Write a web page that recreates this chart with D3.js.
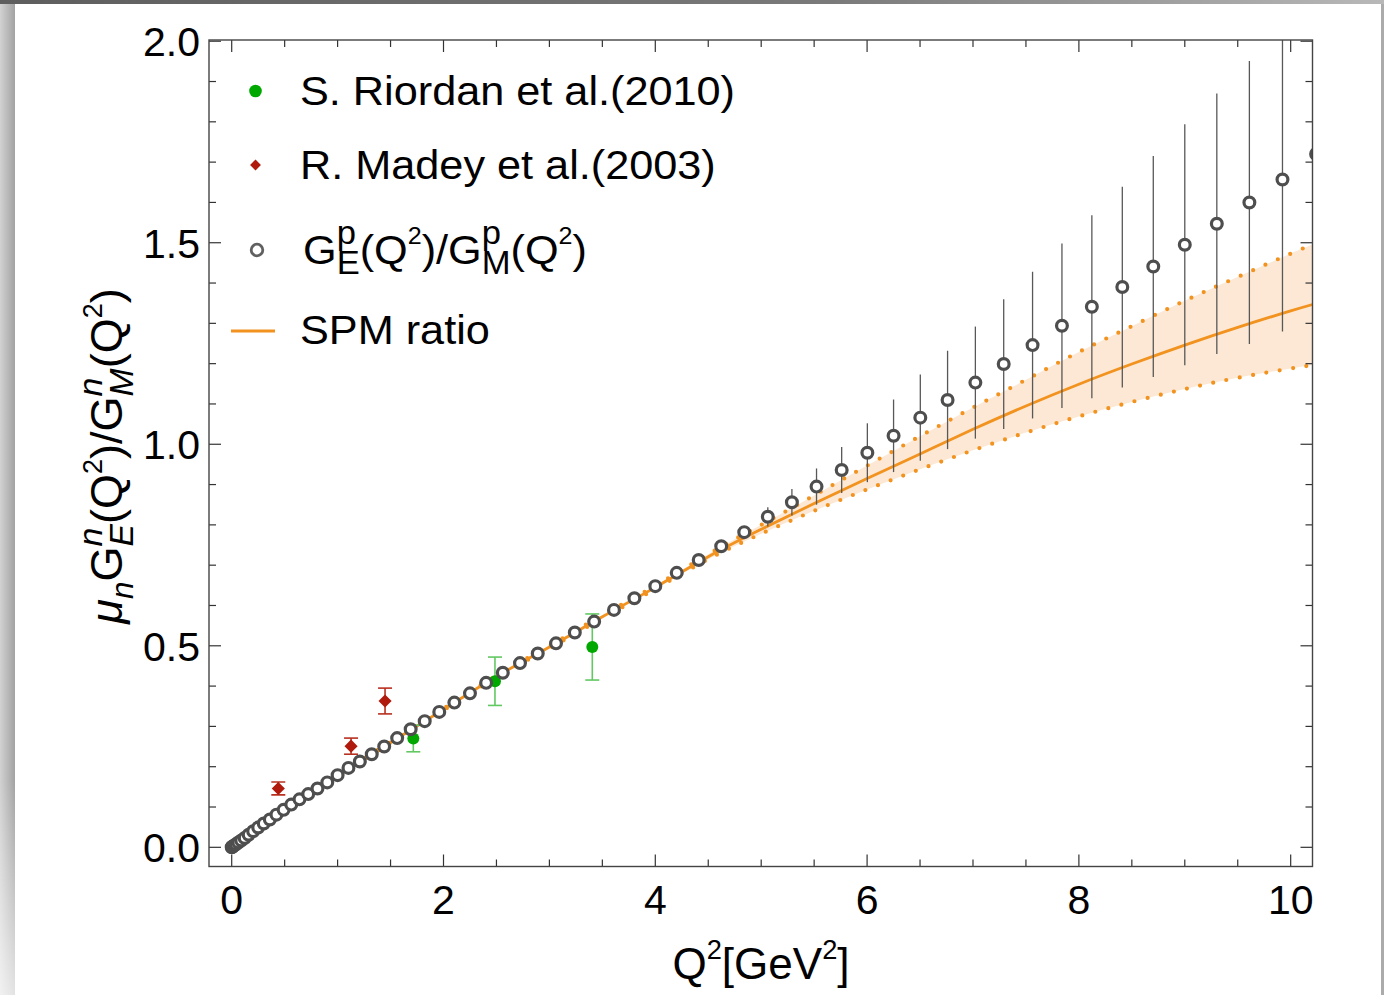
<!DOCTYPE html>
<html><head><meta charset="utf-8">
<script src="https://cdn.jsdelivr.net/npm/d3@7"></script>
<style>body{margin:0;background:#fff;}svg{display:block;}</style>
</head><body>
<script>
// ---------------- data ----------------
const qSq = [0, 0.0025, 0.01, 0.0225, 0.04, 0.0625, 0.09, 0.1225, 0.16, 0.2025, 0.25, 0.3025, 0.36, 0.4225, 0.49, 0.5625, 0.64, 0.7225, 0.81, 0.9025, 1, 1.1025, 1.21, 1.3225, 1.44, 1.5625, 1.69, 1.8225, 1.96, 2.1025, 2.25, 2.4025, 2.56, 2.7225, 2.89, 3.0625, 3.24, 3.4225, 3.61, 3.8025, 4, 4.2025, 4.41, 4.6225, 4.84, 5.0625, 5.29, 5.5225, 5.76, 6.0025, 6.25, 6.5025, 6.76, 7.0225, 7.29, 7.5625, 7.84, 8.1225, 8.41, 8.7025, 9, 9.3025, 9.61, 9.9225, 10.24];
const ratio = [0, 0.0005, 0.0019, 0.0043, 0.0076, 0.012, 0.017, 0.023, 0.031, 0.040, 0.049, 0.059, 0.069, 0.081, 0.093, 0.106, 0.119, 0.132, 0.146, 0.161, 0.179, 0.197, 0.213, 0.231, 0.250, 0.271, 0.293, 0.313, 0.336, 0.359, 0.382, 0.408, 0.433, 0.457, 0.481, 0.506, 0.533, 0.560, 0.589, 0.618, 0.648, 0.681, 0.713, 0.747, 0.782, 0.820, 0.856, 0.895, 0.936, 0.979, 1.021, 1.066, 1.110, 1.153, 1.199, 1.246, 1.294, 1.341, 1.390, 1.441, 1.495, 1.547, 1.600, 1.657, 1.720];
const ratioErr = [null, null, null, null, null, null, null, null, null, null, null, null, null, null, null, null, null, null, null, null, null, null, null, null, null, null, null, null, null, null, null, null, null, null, null, null, null, null, null, null, null, null, null, null, 0.015, 0.024, 0.033, 0.045, 0.057, 0.073, 0.090, 0.107, 0.122, 0.139, 0.161, 0.182, 0.204, 0.227, 0.249, 0.274, 0.299, 0.323, 0.351, 0.377, 0.405];

const riordanQ = [1.715, 2.486, 3.405];
const riordanV = [0.270, 0.412, 0.497];
const riordanE = [0.033, 0.060, 0.082];

const madeyQ = [0.44, 1.127, 1.448];
const madeyV = [0.146, 0.251, 0.363];
const madeyE = [0.016, 0.020, 0.032];

const spmQ   = [0, 0.5, 1, 1.5, 2, 2.5, 3, 3.5, 4, 4.5, 5, 5.5, 6, 6.5, 7, 7.5, 8, 8.5, 9, 9.5, 10, 10.25];
const spmMid = [0, 0.095, 0.179, 0.260, 0.342, 0.424, 0.497, 0.572, 0.645, 0.721, 0.789, 0.853, 0.915, 0.976, 1.037, 1.095, 1.149, 1.199, 1.246, 1.290, 1.331, 1.350];
const spmUp  = [0, 0.095, 0.180, 0.261, 0.344, 0.426, 0.500, 0.576, 0.649, 0.727, 0.800, 0.873, 0.947, 1.020, 1.091, 1.160, 1.229, 1.293, 1.356, 1.415, 1.473, 1.500];
const spmLo  = [0, 0.095, 0.178, 0.259, 0.340, 0.422, 0.494, 0.568, 0.641, 0.715, 0.778, 0.835, 0.888, 0.938, 0.985, 1.029, 1.069, 1.105, 1.137, 1.165, 1.188, 1.198];

const xTickVals = [0, 2, 4, 6, 8, 10];
const xTickLabels = ["0", "2", "4", "6", "8", "10"];
const yTickVals = [0, 0.5, 1.0, 1.5, 2.0];
const yTickLabels = ["0.0", "0.5", "1.0", "1.5", "2.0"];

const legendLabels = ["S. Riordan et al.(2010)", "R. Madey et al.(2003)", "G^p_E(Q^2)/G^p_M(Q^2)", "SPM ratio"];

// ---------------- setup ----------------
const W = 1384, H = 995;
const FONT = '"Liberation Sans", Arial, Helvetica, sans-serif';
const ORANGE = "#f2921f";
const svg = d3.select("body").append("svg").attr("width", W).attr("height", H);
const defs = svg.append("defs");

// page shadow border
const gTop = defs.append("linearGradient").attr("id", "gTop");
gTop.append("stop").attr("offset", "0%").attr("stop-color", "#5e5e5e");
gTop.append("stop").attr("offset", "60%").attr("stop-color", "#7a7a7a");
gTop.append("stop").attr("offset", "100%").attr("stop-color", "#b8b8b8");
const gLeft = defs.append("linearGradient").attr("id", "gLeft");
gLeft.append("stop").attr("offset", "0%").attr("stop-color", "#d2d2d2");
gLeft.append("stop").attr("offset", "100%").attr("stop-color", "#a2a2a2");
const gFade = defs.append("linearGradient").attr("id", "gFade").attr("x1", 0).attr("x2", 0).attr("y1", 0).attr("y2", 1);
gFade.append("stop").attr("offset", "0%").attr("stop-color", "#fff").attr("stop-opacity", 0);
gFade.append("stop").attr("offset", "100%").attr("stop-color", "#fff").attr("stop-opacity", 0.7);

svg.append("rect").attr("x", 0).attr("y", 0).attr("width", 15).attr("height", H).attr("fill", "url(#gLeft)");
svg.append("rect").attr("x", 0).attr("y", 780).attr("width", 15).attr("height", H - 780).attr("fill", "url(#gFade)");
svg.append("rect").attr("x", 1381).attr("y", 0).attr("width", 3).attr("height", H).attr("fill", "#ababab");
svg.append("rect").attr("x", 0).attr("y", 0).attr("width", W).attr("height", 4).attr("fill", "url(#gTop)");

// plot area
const L = 209, R = 1312.5, T = 40, B = 866.5;
const x = d3.scaleLinear().domain([-0.2144, 10.206]).range([L, R]);
const y = d3.scaleLinear().domain([-0.0476, 2.003]).range([B, T]);

defs.append("clipPath").attr("id", "clip").append("rect")
  .attr("x", L).attr("y", T).attr("width", R - L).attr("height", B - T);
const plot = svg.append("g").attr("clip-path", "url(#clip)");

// SPM band
const spm = spmQ.map((q, i) => ({q, m: spmMid[i], u: spmUp[i], l: spmLo[i]}));
const curve = d3.curveNatural;
plot.append("path").datum(spm)
  .attr("d", d3.area().curve(curve).x(d => x(d.q)).y0(d => y(d.l)).y1(d => y(d.u)))
  .attr("fill", "#fce8d4");
["u", "l"].forEach(k => {
  plot.append("path").datum(spm)
    .attr("d", d3.line().curve(curve).x(d => x(d.q)).y(d => y(d[k])))
    .attr("fill", "none").attr("stroke", ORANGE).attr("stroke-width", 4.2)
    .attr("stroke-linecap", "round").attr("stroke-dasharray", "0 13.5");
});
plot.append("path").datum(spm)
  .attr("d", d3.line().curve(curve).x(d => x(d.q)).y(d => y(d.m)))
  .attr("fill", "none").attr("stroke", ORANGE).attr("stroke-width", 2.8);

// circle series error bars
const pts = qSq.map((q, i) => ({q, v: ratio[i], e: ratioErr[i]}));
plot.selectAll("line.cerr").data(pts.filter(d => d.e != null)).join("line")
  .attr("class", "cerr")
  .attr("x1", d => x(d.q)).attr("x2", d => x(d.q))
  .attr("y1", d => y(d.v + d.e)).attr("y2", d => y(d.v - d.e))
  .attr("stroke", "#585858").attr("stroke-width", 1.3);

// Riordan (green)
const rio = riordanQ.map((q, i) => ({q, v: riordanV[i], e: riordanE[i]}));
const gG = plot.append("g").attr("stroke", "#62c862").attr("stroke-width", 1.6);
rio.forEach(d => {
  gG.append("line").attr("x1", x(d.q)).attr("x2", x(d.q)).attr("y1", y(d.v + d.e)).attr("y2", y(d.v - d.e));
  [d.v + d.e, d.v - d.e].forEach(v => gG.append("line").attr("x1", x(d.q) - 7).attr("x2", x(d.q) + 7).attr("y1", y(v)).attr("y2", y(v)));
});
plot.selectAll("circle.rio").data(rio).join("circle").attr("class", "rio")
  .attr("cx", d => x(d.q)).attr("cy", d => y(d.v)).attr("r", 6).attr("fill", "#00a800");

// Madey (red)
const mad = madeyQ.map((q, i) => ({q, v: madeyV[i], e: madeyE[i]}));
const gR = plot.append("g").attr("stroke", "#b8301f").attr("stroke-width", 1.6);
mad.forEach(d => {
  gR.append("line").attr("x1", x(d.q)).attr("x2", x(d.q)).attr("y1", y(d.v + d.e)).attr("y2", y(d.v - d.e));
  [d.v + d.e, d.v - d.e].forEach(v => gR.append("line").attr("x1", x(d.q) - 7).attr("x2", x(d.q) + 7).attr("y1", y(v)).attr("y2", y(v)));
});
const diamond = d3.symbol().type(d3.symbolDiamond2).size(110);
plot.selectAll("path.mad").data(mad).join("path").attr("class", "mad")
  .attr("d", diamond).attr("transform", d => `translate(${x(d.q)},${y(d.v)})`)
  .attr("fill", "#b01a0c");

// circles
plot.selectAll("circle.gp").data(pts).join("circle").attr("class", "gp")
  .attr("cx", d => x(d.q)).attr("cy", d => y(d.v)).attr("r", 5.4)
  .attr("fill", "#fff").attr("stroke", "#4e4e4e").attr("stroke-width", 3.2);

// frame & ticks
const axG = svg.append("g").attr("stroke", "#333").attr("stroke-width", 1.2);
const xMinor = d3.range(0, 10.21, 0.5);
xMinor.forEach(v => {
  const major = xTickVals.includes(v);
  const len = major ? 12 : 7;
  axG.append("line").attr("x1", x(v)).attr("x2", x(v)).attr("y1", B).attr("y2", B - len);
  axG.append("line").attr("x1", x(v)).attr("x2", x(v)).attr("y1", T).attr("y2", T + len);
});
const yMinor = d3.range(0, 20.1, 1).map(v => +(v / 10).toFixed(1));
yMinor.forEach(v => {
  const major = yTickVals.includes(v);
  const len = major ? 12 : 7;
  axG.append("line").attr("x1", L).attr("x2", L + len).attr("y1", y(v)).attr("y2", y(v));
  axG.append("line").attr("x1", R).attr("x2", R - len).attr("y1", y(v)).attr("y2", y(v));
});
svg.append("rect").attr("x", L).attr("y", T).attr("width", R - L).attr("height", B - T)
  .attr("fill", "none").attr("stroke", "#444").attr("stroke-width", 1.4);

// tick labels
const tl = svg.append("g").style("font-family", FONT).style("font-size", "41px").attr("fill", "#000");
xTickVals.forEach((v, i) => tl.append("text").attr("x", x(v)).attr("y", 914).attr("text-anchor", "middle").text(xTickLabels[i]));
yTickVals.forEach((v, i) => tl.append("text").attr("x", 200).attr("y", y(v) + 14.8).attr("text-anchor", "end").text(yTickLabels[i]));

// rich text helper
function measure(str, size, italic) {
  const t = svg.append("text").style("font-family", FONT).style("font-size", size + "px")
    .style("font-style", italic ? "italic" : "normal").text(str);
  const w = t.node().getComputedTextLength(); t.remove(); return w;
}
function rich(parent, segs, base) {
  const text = parent.append("text").style("font-family", FONT).style("font-size", base + "px").attr("fill", "#000");
  let cur = 0;
  segs.forEach(s => {
    const sz = (s.size || 1) * base, off = (s.off || 0) * base;
    const ts = text.append("tspan").text(s.t).style("font-size", sz + "px").attr("dy", off - cur);
    cur = off;
    if (s.it) ts.style("font-style", "italic");
    if (s.back) ts.attr("dx", -measure(s.back.t, (s.back.size || 1) * base, s.back.it));
  });
  return text;
}

// axis titles
rich(svg, [{t: "Q"}, {t: "2", size: 0.62, off: -0.45}, {t: "[GeV"}, {t: "2", size: 0.62, off: -0.45}, {t: "]"}], 44)
  .attr("x", 761).attr("y", 979).attr("text-anchor", "middle");
const subN = {t: "n", it: true, size: 0.75};
rich(svg, [{t: "μ", it: true}, {t: "n", it: true, size: 0.7, off: 0.25}, {t: "G"}, {t: "n", it: true, size: 0.75, off: -0.45},
  {t: "E", it: true, size: 0.75, off: 0.25, back: subN}, {t: "(Q"}, {t: "2", size: 0.6, off: -0.45}, {t: ")/G"},
  {t: "n", it: true, size: 0.75, off: -0.45}, {t: "M", it: true, size: 0.75, off: 0.25, back: subN}, {t: "(Q"},
  {t: "2", size: 0.6, off: -0.45}, {t: ")"}], 45)
  .attr("text-anchor", "middle").attr("transform", "translate(122,456) rotate(-90)");

// legend
const lg = svg.append("g");
lg.append("circle").attr("cx", 255.5).attr("cy", 91).attr("r", 6.3).attr("fill", "#00a800");
lg.append("path").attr("d", d3.symbol().type(d3.symbolDiamond2).size(75)).attr("transform", "translate(255.5,165)").attr("fill", "#b01a0c");
lg.append("circle").attr("cx", 257).attr("cy", 250).attr("r", 5.8).attr("fill", "#fff").attr("stroke", "#606060").attr("stroke-width", 2.8);
lg.append("line").attr("x1", 231).attr("x2", 275).attr("y1", 331).attr("y2", 331).attr("stroke", ORANGE).attr("stroke-width", 3.2);
const SX = 1.055, LF = 41;
function legText(xp, yp) { return lg.append("g").attr("transform", `translate(${xp},${yp}) scale(${SX},1)`); }
legText(300, 105).append("text").style("font-family", FONT).style("font-size", LF + "px").text(legendLabels[0]);
legText(300, 179).append("text").style("font-family", FONT).style("font-size", LF + "px").text(legendLabels[1]);
const pSup = {t: "p", size: 0.8};
rich(legText(303, 264), [{t: "G"}, {t: "p", size: 0.8, off: -0.49}, {t: "E", size: 0.8, off: 0.25, back: pSup}, {t: "(Q"}, {t: "2", size: 0.58, off: -0.49},
  {t: ")/G"}, {t: "p", size: 0.8, off: -0.49}, {t: "M", size: 0.8, off: 0.25, back: pSup}, {t: "(Q"}, {t: "2", size: 0.58, off: -0.49}, {t: ")"}], LF);
legText(300, 344).append("text").style("font-family", FONT).style("font-size", LF + "px").text(legendLabels[3]);
</script>
</body></html>
